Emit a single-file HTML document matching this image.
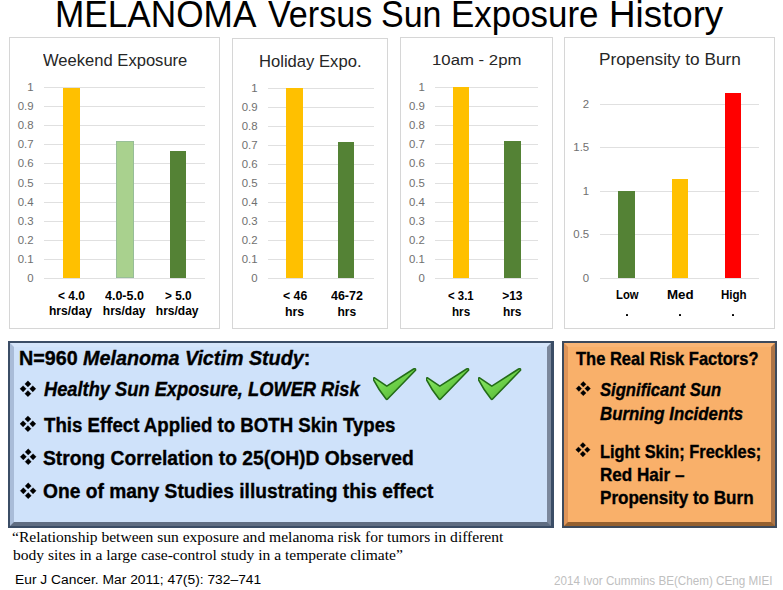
<!DOCTYPE html>
<html><head><meta charset="utf-8"><style>
html,body{margin:0;padding:0;}
body{width:783px;height:590px;position:relative;overflow:hidden;background:#fff;font-family:"Liberation Sans",sans-serif;}
.tx{position:absolute;white-space:nowrap;line-height:1;transform-origin:0 0;}
.yl{position:absolute;white-space:nowrap;line-height:1;color:#707070;text-align:right;font-family:"Liberation Sans",sans-serif;}
</style></head><body>
<div style="position:absolute;left:9px;top:37px;width:211px;height:292px;box-sizing:border-box;border:1px solid #d6d6d6;"></div>
<div style="position:absolute;left:232px;top:38px;width:156px;height:291px;box-sizing:border-box;border:1px solid #d6d6d6;"></div>
<div style="position:absolute;left:400px;top:37px;width:153px;height:292px;box-sizing:border-box;border:1px solid #d6d6d6;"></div>
<div style="position:absolute;left:564px;top:37px;width:211px;height:292px;box-sizing:border-box;border:1px solid #d6d6d6;"></div>
<div style="position:absolute;left:44.00px;top:278.00px;width:161.00px;height:1.00px;background:#e0e0e0;"></div>
<div class="yl" style="right:749.40px;top:273.08px;font-size:11.4px;">0</div>
<div style="position:absolute;left:44.00px;top:259.00px;width:161.00px;height:1.00px;background:#e0e0e0;"></div>
<div class="yl" style="right:749.40px;top:253.98px;font-size:11.4px;">0.1</div>
<div style="position:absolute;left:44.00px;top:240.00px;width:161.00px;height:1.00px;background:#e0e0e0;"></div>
<div class="yl" style="right:749.40px;top:234.88px;font-size:11.4px;">0.2</div>
<div style="position:absolute;left:44.00px;top:221.00px;width:161.00px;height:1.00px;background:#e0e0e0;"></div>
<div class="yl" style="right:749.40px;top:215.78px;font-size:11.4px;">0.3</div>
<div style="position:absolute;left:44.00px;top:202.00px;width:161.00px;height:1.00px;background:#e0e0e0;"></div>
<div class="yl" style="right:749.40px;top:196.68px;font-size:11.4px;">0.4</div>
<div style="position:absolute;left:44.00px;top:183.00px;width:161.00px;height:1.00px;background:#e0e0e0;"></div>
<div class="yl" style="right:749.40px;top:177.58px;font-size:11.4px;">0.5</div>
<div style="position:absolute;left:44.00px;top:163.00px;width:161.00px;height:1.00px;background:#e0e0e0;"></div>
<div class="yl" style="right:749.40px;top:158.48px;font-size:11.4px;">0.6</div>
<div style="position:absolute;left:44.00px;top:144.00px;width:161.00px;height:1.00px;background:#e0e0e0;"></div>
<div class="yl" style="right:749.40px;top:139.38px;font-size:11.4px;">0.7</div>
<div style="position:absolute;left:44.00px;top:125.00px;width:161.00px;height:1.00px;background:#e0e0e0;"></div>
<div class="yl" style="right:749.40px;top:120.28px;font-size:11.4px;">0.8</div>
<div style="position:absolute;left:44.00px;top:106.00px;width:161.00px;height:1.00px;background:#e0e0e0;"></div>
<div class="yl" style="right:749.40px;top:101.18px;font-size:11.4px;">0.9</div>
<div style="position:absolute;left:44.00px;top:87.00px;width:161.00px;height:1.00px;background:#e0e0e0;"></div>
<div class="yl" style="right:749.40px;top:82.08px;font-size:11.4px;">1</div>
<div style="position:absolute;left:267.50px;top:278.00px;width:106.50px;height:1.00px;background:#e0e0e0;"></div>
<div class="yl" style="right:525.40px;top:273.08px;font-size:11.4px;">0</div>
<div style="position:absolute;left:267.50px;top:259.00px;width:106.50px;height:1.00px;background:#e0e0e0;"></div>
<div class="yl" style="right:525.40px;top:254.08px;font-size:11.4px;">0.1</div>
<div style="position:absolute;left:267.50px;top:240.00px;width:106.50px;height:1.00px;background:#e0e0e0;"></div>
<div class="yl" style="right:525.40px;top:235.08px;font-size:11.4px;">0.2</div>
<div style="position:absolute;left:267.50px;top:221.00px;width:106.50px;height:1.00px;background:#e0e0e0;"></div>
<div class="yl" style="right:525.40px;top:216.08px;font-size:11.4px;">0.3</div>
<div style="position:absolute;left:267.50px;top:202.00px;width:106.50px;height:1.00px;background:#e0e0e0;"></div>
<div class="yl" style="right:525.40px;top:197.08px;font-size:11.4px;">0.4</div>
<div style="position:absolute;left:267.50px;top:183.00px;width:106.50px;height:1.00px;background:#e0e0e0;"></div>
<div class="yl" style="right:525.40px;top:178.08px;font-size:11.4px;">0.5</div>
<div style="position:absolute;left:267.50px;top:164.00px;width:106.50px;height:1.00px;background:#e0e0e0;"></div>
<div class="yl" style="right:525.40px;top:159.08px;font-size:11.4px;">0.6</div>
<div style="position:absolute;left:267.50px;top:145.00px;width:106.50px;height:1.00px;background:#e0e0e0;"></div>
<div class="yl" style="right:525.40px;top:140.08px;font-size:11.4px;">0.7</div>
<div style="position:absolute;left:267.50px;top:126.00px;width:106.50px;height:1.00px;background:#e0e0e0;"></div>
<div class="yl" style="right:525.40px;top:121.08px;font-size:11.4px;">0.8</div>
<div style="position:absolute;left:267.50px;top:107.00px;width:106.50px;height:1.00px;background:#e0e0e0;"></div>
<div class="yl" style="right:525.40px;top:102.08px;font-size:11.4px;">0.9</div>
<div style="position:absolute;left:267.50px;top:88.00px;width:106.50px;height:1.00px;background:#e0e0e0;"></div>
<div class="yl" style="right:525.40px;top:83.08px;font-size:11.4px;">1</div>
<div style="position:absolute;left:434.70px;top:278.00px;width:103.80px;height:1.00px;background:#e0e0e0;"></div>
<div class="yl" style="right:358.20px;top:273.08px;font-size:11.4px;">0</div>
<div style="position:absolute;left:434.70px;top:259.00px;width:103.80px;height:1.00px;background:#e0e0e0;"></div>
<div class="yl" style="right:358.20px;top:253.98px;font-size:11.4px;">0.1</div>
<div style="position:absolute;left:434.70px;top:240.00px;width:103.80px;height:1.00px;background:#e0e0e0;"></div>
<div class="yl" style="right:358.20px;top:234.88px;font-size:11.4px;">0.2</div>
<div style="position:absolute;left:434.70px;top:221.00px;width:103.80px;height:1.00px;background:#e0e0e0;"></div>
<div class="yl" style="right:358.20px;top:215.78px;font-size:11.4px;">0.3</div>
<div style="position:absolute;left:434.70px;top:202.00px;width:103.80px;height:1.00px;background:#e0e0e0;"></div>
<div class="yl" style="right:358.20px;top:196.68px;font-size:11.4px;">0.4</div>
<div style="position:absolute;left:434.70px;top:183.00px;width:103.80px;height:1.00px;background:#e0e0e0;"></div>
<div class="yl" style="right:358.20px;top:177.58px;font-size:11.4px;">0.5</div>
<div style="position:absolute;left:434.70px;top:163.00px;width:103.80px;height:1.00px;background:#e0e0e0;"></div>
<div class="yl" style="right:358.20px;top:158.48px;font-size:11.4px;">0.6</div>
<div style="position:absolute;left:434.70px;top:144.00px;width:103.80px;height:1.00px;background:#e0e0e0;"></div>
<div class="yl" style="right:358.20px;top:139.38px;font-size:11.4px;">0.7</div>
<div style="position:absolute;left:434.70px;top:125.00px;width:103.80px;height:1.00px;background:#e0e0e0;"></div>
<div class="yl" style="right:358.20px;top:120.28px;font-size:11.4px;">0.8</div>
<div style="position:absolute;left:434.70px;top:106.00px;width:103.80px;height:1.00px;background:#e0e0e0;"></div>
<div class="yl" style="right:358.20px;top:101.18px;font-size:11.4px;">0.9</div>
<div style="position:absolute;left:434.70px;top:87.00px;width:103.80px;height:1.00px;background:#e0e0e0;"></div>
<div class="yl" style="right:358.20px;top:82.08px;font-size:11.4px;">1</div>
<div style="position:absolute;left:599.90px;top:278.00px;width:159.50px;height:1.00px;background:#e0e0e0;"></div>
<div class="yl" style="right:193.80px;top:272.68px;font-size:11.4px;">0</div>
<div style="position:absolute;left:599.90px;top:234.00px;width:159.50px;height:1.00px;background:#e0e0e0;"></div>
<div class="yl" style="right:193.80px;top:229.28px;font-size:11.4px;">0.5</div>
<div style="position:absolute;left:599.90px;top:191.00px;width:159.50px;height:1.00px;background:#e0e0e0;"></div>
<div class="yl" style="right:193.80px;top:185.88px;font-size:11.4px;">1</div>
<div style="position:absolute;left:599.90px;top:147.00px;width:159.50px;height:1.00px;background:#e0e0e0;"></div>
<div class="yl" style="right:193.80px;top:142.48px;font-size:11.4px;">1.5</div>
<div style="position:absolute;left:599.90px;top:104.00px;width:159.50px;height:1.00px;background:#e0e0e0;"></div>
<div class="yl" style="right:193.80px;top:99.08px;font-size:11.4px;">2</div>
<div style="position:absolute;left:63.30px;top:87.50px;width:16.50px;height:190.50px;background:#ffc000;"></div>
<div style="position:absolute;left:116.10px;top:141.20px;width:17.60px;height:136.80px;background:#a9d18e;box-shadow:inset 0 0 0 0.8px #93b99a;"></div>
<div style="position:absolute;left:170.10px;top:150.80px;width:16.00px;height:127.20px;background:#548235;"></div>
<div style="position:absolute;left:286.00px;top:88.30px;width:16.50px;height:189.70px;background:#ffc000;"></div>
<div style="position:absolute;left:338.10px;top:141.60px;width:16.10px;height:136.40px;background:#548235;"></div>
<div style="position:absolute;left:453.30px;top:87.30px;width:15.80px;height:190.70px;background:#ffc000;"></div>
<div style="position:absolute;left:504.10px;top:141.10px;width:16.60px;height:136.90px;background:#548235;"></div>
<div style="position:absolute;left:618.10px;top:190.90px;width:17.20px;height:87.10px;background:#548235;"></div>
<div style="position:absolute;left:672.30px;top:178.90px;width:16.10px;height:99.10px;background:#ffc000;"></div>
<div style="position:absolute;left:725.10px;top:93.30px;width:16.10px;height:184.70px;background:#ff0000;"></div>
<div style="position:absolute;left:626.10px;top:313.9px;width:2.4px;height:2.4px;border-radius:0.6px;background:#000;"></div>
<div style="position:absolute;left:678.90px;top:313.9px;width:2.4px;height:2.4px;border-radius:0.6px;background:#000;"></div>
<div style="position:absolute;left:731.60px;top:313.9px;width:2.4px;height:2.4px;border-radius:0.6px;background:#000;"></div>
<div style="position:absolute;left:8px;top:341px;width:545.5px;height:186.70000000000005px;background:#3b4d66;"></div>
<div style="position:absolute;left:10.1px;top:343.1px;width:541.3px;height:182.50000000000006px;box-sizing:border-box;background:#cfe2fa;border-style:solid;border-width:4.9px;border-color:#d5e5fa #7b879b #5f6d82 #a9bcd8;"></div>
<div style="position:absolute;left:562px;top:341px;width:215px;height:186.79999999999995px;background:#3d4a5c;"></div>
<div style="position:absolute;left:564.1px;top:343.1px;width:210.8px;height:182.59999999999997px;box-sizing:border-box;background:#f9b06a;border-style:solid;border-width:4.9px;border-color:#fab676 #ad7446 #95602f #de9458;"></div>
<svg style="position:absolute;left:0;top:0" width="783" height="590"><path d="M27.93 380.85L31.03 383.95L27.93 387.05L24.83 383.95ZM23.08 385.70L26.18 388.80L23.08 391.90L19.98 388.80ZM32.78 385.70L35.88 388.80L32.78 391.90L29.68 388.80ZM27.93 390.55L31.03 393.65L27.93 396.75L24.83 393.65Z" fill="#000" stroke="#000" stroke-width="0.3" stroke-linejoin="round"/></svg>
<svg style="position:absolute;left:0;top:0" width="783" height="590"><path d="M27.93 415.90L31.03 419.00L27.93 422.10L24.83 419.00ZM23.08 420.75L26.18 423.85L23.08 426.95L19.98 423.85ZM32.78 420.75L35.88 423.85L32.78 426.95L29.68 423.85ZM27.93 425.60L31.03 428.70L27.93 431.80L24.83 428.70Z" fill="#000" stroke="#000" stroke-width="0.3" stroke-linejoin="round"/></svg>
<svg style="position:absolute;left:0;top:0" width="783" height="590"><path d="M28.20 448.85L31.30 451.95L28.20 455.05L25.10 451.95ZM23.35 453.70L26.45 456.80L23.35 459.90L20.25 456.80ZM33.05 453.70L36.15 456.80L33.05 459.90L29.95 456.80ZM28.20 458.55L31.30 461.65L28.20 464.75L25.10 461.65Z" fill="#000" stroke="#000" stroke-width="0.3" stroke-linejoin="round"/></svg>
<svg style="position:absolute;left:0;top:0" width="783" height="590"><path d="M28.20 482.85L31.30 485.95L28.20 489.05L25.10 485.95ZM23.35 487.70L26.45 490.80L23.35 493.90L20.25 490.80ZM33.05 487.70L36.15 490.80L33.05 493.90L29.95 490.80ZM28.20 492.55L31.30 495.65L28.20 498.75L25.10 495.65Z" fill="#000" stroke="#000" stroke-width="0.3" stroke-linejoin="round"/></svg>
<svg style="position:absolute;left:0;top:0" width="783" height="590"><path d="M583.30 381.40L586.10 384.20L583.30 387.00L580.50 384.20ZM578.90 385.80L581.70 388.60L578.90 391.40L576.10 388.60ZM587.70 385.80L590.50 388.60L587.70 391.40L584.90 388.60ZM583.30 390.20L586.10 393.00L583.30 395.80L580.50 393.00Z" fill="#000" stroke="#000" stroke-width="0.3" stroke-linejoin="round"/></svg>
<svg style="position:absolute;left:0;top:0" width="783" height="590"><path d="M582.90 442.50L585.70 445.30L582.90 448.10L580.10 445.30ZM578.50 446.90L581.30 449.70L578.50 452.50L575.70 449.70ZM587.30 446.90L590.10 449.70L587.30 452.50L584.50 449.70ZM582.90 451.30L585.70 454.10L582.90 456.90L580.10 454.10Z" fill="#000" stroke="#000" stroke-width="0.3" stroke-linejoin="round"/></svg>
<svg style="position:absolute;left:372.50px;top:367.50px" width="44" height="34" viewBox="0 0 44 34">
<defs><linearGradient id="g372" x1="0" y1="0" x2="0.9" y2="1"><stop offset="0" stop-color="#9cf076"/><stop offset="0.45" stop-color="#72d64e"/><stop offset="1" stop-color="#4da82c"/></linearGradient></defs>
<path d="M1.2 9.7 L13.8 18.2 L40.6 1.0 Q42.9 0.0 42.5 2.3 L14.6 31.0 Q13.8 31.9 13.1 31.0 Q5.6 21.8 0.6 11.9 Q0.2 10.0 1.2 9.7 Z" fill="url(#g372)" stroke="#236c18" stroke-width="1.6" stroke-linejoin="round"/>
</svg>
<svg style="position:absolute;left:425.50px;top:367.50px" width="44" height="34" viewBox="0 0 44 34">
<defs><linearGradient id="g425" x1="0" y1="0" x2="0.9" y2="1"><stop offset="0" stop-color="#9cf076"/><stop offset="0.45" stop-color="#72d64e"/><stop offset="1" stop-color="#4da82c"/></linearGradient></defs>
<path d="M1.2 9.7 L13.8 18.2 L40.6 1.0 Q42.9 0.0 42.5 2.3 L14.6 31.0 Q13.8 31.9 13.1 31.0 Q5.6 21.8 0.6 11.9 Q0.2 10.0 1.2 9.7 Z" fill="url(#g425)" stroke="#236c18" stroke-width="1.6" stroke-linejoin="round"/>
</svg>
<svg style="position:absolute;left:477.50px;top:367.50px" width="44" height="34" viewBox="0 0 44 34">
<defs><linearGradient id="g477" x1="0" y1="0" x2="0.9" y2="1"><stop offset="0" stop-color="#9cf076"/><stop offset="0.45" stop-color="#72d64e"/><stop offset="1" stop-color="#4da82c"/></linearGradient></defs>
<path d="M1.2 9.7 L13.8 18.2 L40.6 1.0 Q42.9 0.0 42.5 2.3 L14.6 31.0 Q13.8 31.9 13.1 31.0 Q5.6 21.8 0.6 11.9 Q0.2 10.0 1.2 9.7 Z" fill="url(#g477)" stroke="#236c18" stroke-width="1.6" stroke-linejoin="round"/>
</svg>
<div class="tx" style="left:55.42px;top:-3.10px;font-family:'Liberation Sans', sans-serif;font-weight:normal;font-size:36.10px;color:#000;transform:scaleX(0.9752);">MELANOMA</div>
<div class="tx" style="left:268.00px;top:-3.10px;font-family:'Liberation Sans', sans-serif;font-weight:normal;font-size:36.10px;color:#000;transform:scaleX(0.9450);">Versus</div>
<div class="tx" style="left:381.32px;top:-3.10px;font-family:'Liberation Sans', sans-serif;font-weight:normal;font-size:36.10px;color:#000;transform:scaleX(0.9417);">Sun</div>
<div class="tx" style="left:451.40px;top:-3.10px;font-family:'Liberation Sans', sans-serif;font-weight:normal;font-size:36.10px;color:#000;transform:scaleX(0.9676);">Exposure</div>
<div class="tx" style="left:609.05px;top:-3.10px;font-family:'Liberation Sans', sans-serif;font-weight:normal;font-size:36.10px;color:#000;transform:scaleX(1.0174);">History</div>
<div class="tx" style="left:42.90px;top:52.60px;font-family:'Liberation Sans', sans-serif;font-weight:normal;font-size:15.94px;color:#262626;transform:scaleX(1.0399);">Weekend Exposure</div>
<div class="tx" style="left:258.89px;top:53.80px;font-family:'Liberation Sans', sans-serif;font-weight:normal;font-size:16.52px;color:#262626;transform:scaleX(1.0060);">Holiday Expo.</div>
<div class="tx" style="left:431.81px;top:52.30px;font-family:'Liberation Sans', sans-serif;font-weight:normal;font-size:15.36px;color:#262626;transform:scaleX(1.0913);">10am - 2pm</div>
<div class="tx" style="left:599.06px;top:52.10px;font-family:'Liberation Sans', sans-serif;font-weight:normal;font-size:16.52px;color:#262626;transform:scaleX(1.0440);">Propensity to Burn</div>
<div class="tx" style="left:58.40px;top:289.80px;font-family:'Liberation Sans', sans-serif;font-weight:bold;font-size:12.00px;color:#000;transform:scaleX(0.9926);">&lt; 4.0</div>
<div class="tx" style="left:49.40px;top:305.40px;font-family:'Liberation Sans', sans-serif;font-weight:bold;font-size:12.00px;color:#000;transform:scaleX(1.0048);">hrs/day</div>
<div class="tx" style="left:105.30px;top:289.80px;font-family:'Liberation Sans', sans-serif;font-weight:bold;font-size:12.00px;color:#000;transform:scaleX(1.0405);">4.0-5.0</div>
<div class="tx" style="left:102.80px;top:305.40px;font-family:'Liberation Sans', sans-serif;font-weight:bold;font-size:12.00px;color:#000;transform:scaleX(1.0000);">hrs/day</div>
<div class="tx" style="left:165.00px;top:289.80px;font-family:'Liberation Sans', sans-serif;font-weight:bold;font-size:12.00px;color:#000;transform:scaleX(0.9815);">&gt; 5.0</div>
<div class="tx" style="left:155.80px;top:305.40px;font-family:'Liberation Sans', sans-serif;font-weight:bold;font-size:12.00px;color:#000;transform:scaleX(1.0000);">hrs/day</div>
<div class="tx" style="left:283.00px;top:290.00px;font-family:'Liberation Sans', sans-serif;font-weight:bold;font-size:12.00px;color:#000;transform:scaleX(1.0217);">&lt; 46</div>
<div class="tx" style="left:284.97px;top:305.80px;font-family:'Liberation Sans', sans-serif;font-weight:bold;font-size:12.00px;color:#000;transform:scaleX(1.0294);">hrs</div>
<div class="tx" style="left:330.60px;top:290.00px;font-family:'Liberation Sans', sans-serif;font-weight:bold;font-size:12.00px;color:#000;transform:scaleX(1.0367);">46-72</div>
<div class="tx" style="left:337.50px;top:305.80px;font-family:'Liberation Sans', sans-serif;font-weight:bold;font-size:12.00px;color:#000;transform:scaleX(1.0000);">hrs</div>
<div class="tx" style="left:448.00px;top:290.00px;font-family:'Liberation Sans', sans-serif;font-weight:bold;font-size:12.00px;color:#000;transform:scaleX(0.9481);">&lt; 3.1</div>
<div class="tx" style="left:452.03px;top:305.80px;font-family:'Liberation Sans', sans-serif;font-weight:bold;font-size:12.00px;color:#000;transform:scaleX(0.9706);">hrs</div>
<div class="tx" style="left:502.20px;top:290.00px;font-family:'Liberation Sans', sans-serif;font-weight:bold;font-size:12.00px;color:#000;transform:scaleX(1.0000);">&gt;13</div>
<div class="tx" style="left:502.81px;top:305.80px;font-family:'Liberation Sans', sans-serif;font-weight:bold;font-size:12.00px;color:#000;transform:scaleX(0.9882);">hrs</div>
<div class="tx" style="left:615.66px;top:289.10px;font-family:'Liberation Sans', sans-serif;font-weight:bold;font-size:12.00px;color:#000;transform:scaleX(0.9391);">Low</div>
<div class="tx" style="left:666.89px;top:289.00px;font-family:'Liberation Sans', sans-serif;font-weight:bold;font-size:12.00px;color:#000;transform:scaleX(1.1091);">Med</div>
<div class="tx" style="left:720.64px;top:289.00px;font-family:'Liberation Sans', sans-serif;font-weight:bold;font-size:12.00px;color:#000;transform:scaleX(0.9600);">High</div>
<div class="tx" style="left:19.48px;top:348.80px;font-family:'Liberation Sans', sans-serif;font-weight:bold;font-size:19.40px;color:#000;transform:scaleX(1.0165);-webkit-text-stroke:0.35px currentColor;">N=960 <i>Melanoma Victim Study</i>:</div>
<div class="tx" style="left:43.80px;top:380.00px;font-family:'Liberation Sans', sans-serif;font-weight:bold;font-size:19.40px;color:#000;transform:scaleX(0.9420);-webkit-text-stroke:0.35px currentColor;"><i>Healthy Sun Exposure, LOWER Risk</i></div>
<div class="tx" style="left:43.80px;top:415.70px;font-family:'Liberation Sans', sans-serif;font-weight:bold;font-size:19.40px;color:#000;transform:scaleX(0.9622);-webkit-text-stroke:0.35px currentColor;">This Effect Applied to BOTH Skin Types</div>
<div class="tx" style="left:42.81px;top:448.60px;font-family:'Liberation Sans', sans-serif;font-weight:bold;font-size:19.40px;color:#000;transform:scaleX(0.9946);-webkit-text-stroke:0.35px currentColor;">Strong Correlation to 25(OH)D Observed</div>
<div class="tx" style="left:42.81px;top:482.40px;font-family:'Liberation Sans', sans-serif;font-weight:bold;font-size:19.40px;color:#000;transform:scaleX(0.9901);-webkit-text-stroke:0.35px currentColor;">One of many Studies illustrating this effect</div>
<div class="tx" style="left:576.10px;top:349.70px;font-family:'Liberation Sans', sans-serif;font-weight:bold;font-size:18.20px;color:#000;transform:scaleX(0.9075);-webkit-text-stroke:0.35px currentColor;">The Real Risk Factors?</div>
<div class="tx" style="left:599.90px;top:380.80px;font-family:'Liberation Sans', sans-serif;font-weight:bold;font-size:18.20px;color:#000;transform:scaleX(0.9144);-webkit-text-stroke:0.35px currentColor;"><i>Significant Sun</i></div>
<div class="tx" style="left:599.90px;top:404.70px;font-family:'Liberation Sans', sans-serif;font-weight:bold;font-size:18.20px;color:#000;transform:scaleX(0.9260);-webkit-text-stroke:0.35px currentColor;"><i>Burning Incidents</i></div>
<div class="tx" style="left:599.80px;top:442.60px;font-family:'Liberation Sans', sans-serif;font-weight:bold;font-size:18.20px;color:#000;transform:scaleX(0.9017);-webkit-text-stroke:0.35px currentColor;">Light Skin; Freckles;</div>
<div class="tx" style="left:599.76px;top:466.00px;font-family:'Liberation Sans', sans-serif;font-weight:bold;font-size:18.20px;color:#000;transform:scaleX(0.9393);-webkit-text-stroke:0.35px currentColor;">Red Hair &#8211;</div>
<div class="tx" style="left:599.76px;top:488.80px;font-family:'Liberation Sans', sans-serif;font-weight:bold;font-size:18.20px;color:#000;transform:scaleX(0.9383);-webkit-text-stroke:0.35px currentColor;">Propensity to Burn</div>
<div class="tx" style="left:11.80px;top:528.90px;font-family:'Liberation Serif', serif;font-weight:normal;font-size:15.50px;color:#000;transform:scaleX(1.0037);">&#8220;Relationship between sun exposure and melanoma risk for tumors in different</div>
<div class="tx" style="left:13.00px;top:546.60px;font-family:'Liberation Serif', serif;font-weight:normal;font-size:15.50px;color:#000;transform:scaleX(1.0026);">body sites in a large case-control study in a temperate climate&#8221;</div>
<div class="tx" style="left:14.99px;top:572.80px;font-family:'Liberation Sans', sans-serif;font-weight:normal;font-size:13.70px;color:#000;transform:scaleX(1.0091);">Eur J Cancer. Mar 2011; 47(5): 732&#8211;741</div>
<div class="tx" style="left:553.66px;top:574.90px;font-family:'Liberation Sans', sans-serif;font-weight:normal;font-size:12.40px;color:#bfbfbf;transform:scaleX(0.9417);">2014 Ivor Cummins BE(Chem) CEng MIEI</div>
</body></html>
